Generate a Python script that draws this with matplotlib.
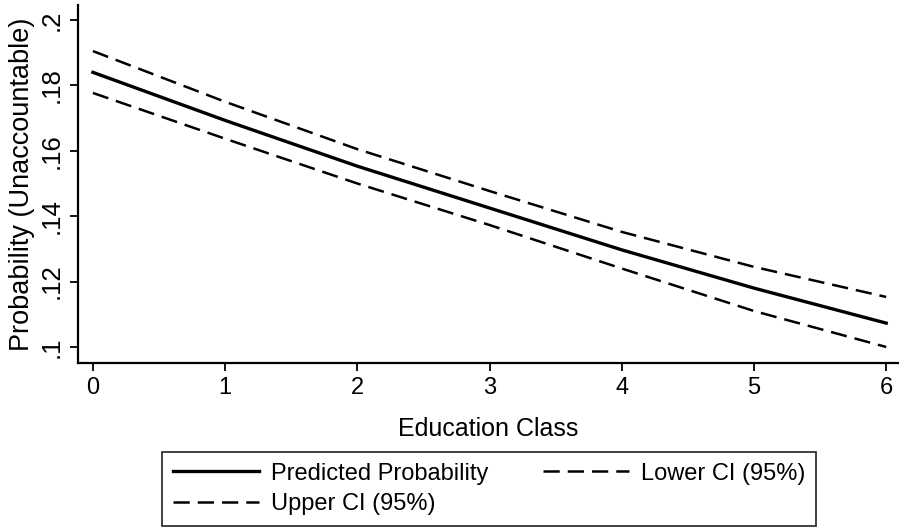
import matplotlib
matplotlib.use("Agg")
import matplotlib.pyplot as plt

plt.rcParams['font.family'] = ['Liberation Sans', 'DejaVu Sans']

education = [0, 1, 2, 3, 4, 5, 6]
predicted = [0.1840, 0.1693, 0.1553, 0.1425, 0.1297, 0.1180, 0.1073]
upper_ci = [0.1905, 0.1750, 0.1605, 0.1477, 0.1352, 0.1245, 0.1153]
lower_ci = [0.1777, 0.1637, 0.1500, 0.1373, 0.1240, 0.1110, 0.1000]
xticks = [0, 1, 2, 3, 4, 5, 6]
yticks = [0.10, 0.12, 0.14, 0.16, 0.18, 0.20]
ytick_labels = ['.1', '.12', '.14', '.16', '.18', '.2']

fig = plt.figure(figsize=(8.99, 5.27), dpi=100)
ax = fig.add_axes([78/899, 1-363/527, 1-78/899 - 0.001, (363-5)/527])

ax.plot(education, predicted, color='black', lw=2.4, label='Predicted Probability')
ax.plot(education, upper_ci, color='black', lw=1.8, ls=(0, (6.5, 3.2)), label='Upper CI (95%)')
ax.plot(education, lower_ci, color='black', lw=1.8, ls=(0, (6.5, 3.2)), label='Lower CI (95%)')

ax.set_xlim(-0.113, 6.09)
ax.set_ylim(0.0951, 0.2046)
ax.set_xticks(xticks)
ax.set_xticklabels([str(v) for v in xticks], fontsize=17)
ax.set_yticks(yticks)
ax.set_yticklabels(ytick_labels, fontsize=18.5, rotation=90, va='center')
for s in ['top', 'right']:
    ax.spines[s].set_visible(False)
for s in ['left', 'bottom']:
    ax.spines[s].set_linewidth(1.6)
ax.tick_params(direction='out', length=6, width=1.3, colors='black', pad=4)
ax.set_xlabel('Education Class', fontsize=18, labelpad=13)
ax.set_ylabel('Probability (Unaccountable)', fontsize=19.5, labelpad=4)

h, l = ax.get_legend_handles_labels()
leg = fig.legend(h, l, ncol=2,
                 loc='upper center', bbox_to_anchor=(489/899, 1-452/527),
                 borderaxespad=0,
                 fontsize=17, frameon=True, fancybox=False, edgecolor='black',
                 handlelength=3.65, columnspacing=2.3, borderpad=0.45,
                 labelspacing=0.35, handletextpad=0.5)
leg.get_frame().set_linewidth(1.3)

fig.savefig('out.png', dpi=100)
